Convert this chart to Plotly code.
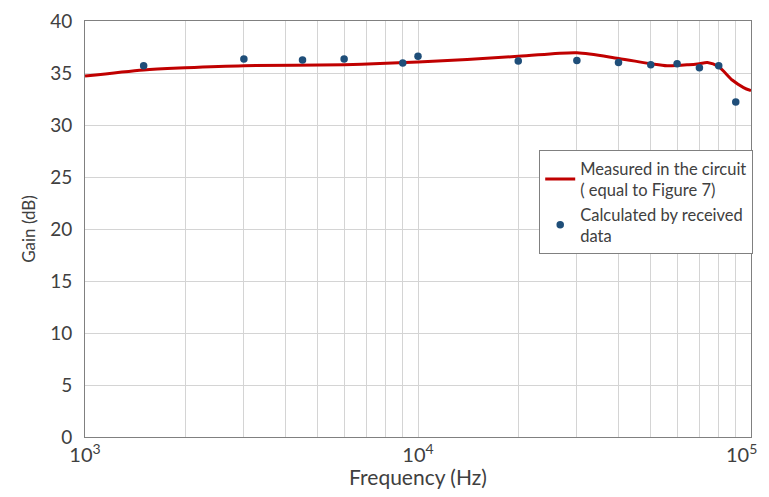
import plotly.graph_objects as go

# Measured curve (Hz, dB)
meas_freq = [1000, 1500, 2000, 3000, 6000, 10000, 20000, 30000, 40000,
             50000, 56000, 65000, 70000, 74000, 80000, 88000, 95000, 100000]
meas_gain = [34.7, 35.3, 35.5, 35.7, 35.8, 36.05, 36.6, 36.95, 36.4,
             35.9, 35.7, 35.8, 35.9, 36.0, 35.6, 34.3, 33.6, 33.3]

# Calculated points
calc_freq = [1500, 3000, 4500, 6000, 9000, 10000, 20000, 30000, 40000,
             50000, 60000, 70000, 80000, 90000]
calc_gain = [35.7, 36.35, 36.25, 36.35, 35.95, 36.6, 36.15, 36.2, 36.0,
             35.8, 35.9, 35.5, 35.7, 32.2]

x_tickvals = [1000, 10000, 100000]
x_ticktext = ["10<sup>3</sup>", "10<sup>4</sup>", "10<sup>5</sup>"]
y_tickvals = [0, 5, 10, 15, 20, 25, 30, 35, 40]

FONT = "Lato, Calibri, sans-serif"
TXT = "#404040"
GRID = "#d4d4d4"

fig = go.Figure()
fig.add_trace(go.Scatter(
    x=meas_freq, y=meas_gain, mode="lines",
    line=dict(color="#C00000", width=3, shape="spline", smoothing=0.8),
    name="Measured in the circuit<br>( equal to Figure 7)"))
fig.add_trace(go.Scatter(
    x=calc_freq, y=calc_gain, mode="markers",
    marker=dict(color="#1F4E79", size=7.5),
    name="Calculated by received<br>data"))

# page has an 8px body margin, so the figure is sized/offset to compensate
fig.update_layout(
    width=753, height=481,
    margin=dict(l=77, r=8, t=13, b=52),
    paper_bgcolor="white", plot_bgcolor="white",
    font=dict(family=FONT, color=TXT),
    showlegend=True,
    legend=dict(x=0.682, y=0.69, xanchor="left", yanchor="top",
                bordercolor="#808080", borderwidth=1, bgcolor="white",
                font=dict(size=16.5, color=TXT), tracegroupgap=8,
                itemwidth=30),
)
# last tick label drawn right-aligned so it stays inside the figure
fig.add_annotation(
    x=1, xref="paper", y=0, yref="paper", xanchor="right", yanchor="top",
    text=x_ticktext[-1], showarrow=False, xshift=8, yshift=-1,
    font=dict(size=20, color=TXT, family=FONT))
fig.update_xaxes(
    type="log", range=[3, 5], automargin=False,
    tickvals=x_tickvals[:-1], ticktext=x_ticktext[:-1],
    tickfont=dict(size=20, color=TXT),
    showgrid=True, gridcolor=GRID, gridwidth=1,
    minor=dict(showgrid=True, gridcolor=GRID, gridwidth=1,
               tickvals=[2000, 3000, 4000, 5000, 6000, 7000, 8000, 9000,
                         20000, 30000, 40000, 50000, 60000, 70000, 80000, 90000]),
    showline=True, linecolor="#808080", linewidth=1, mirror=True,
    ticks="", title=dict(text="Frequency (Hz)", font=dict(size=21, color=TXT), standoff=8),
)
fig.update_yaxes(
    range=[0, 40], tickvals=y_tickvals, automargin=False,
    tickfont=dict(size=19, color=TXT), ticklabelstandoff=8,
    showgrid=True, gridcolor=GRID, gridwidth=1,
    showline=True, linecolor="#808080", linewidth=1, mirror=True,
    ticks="", zeroline=False,
    title=dict(text="Gain (dB)", font=dict(size=17, color=TXT), standoff=10),
)

fig.write_html("out.html")
